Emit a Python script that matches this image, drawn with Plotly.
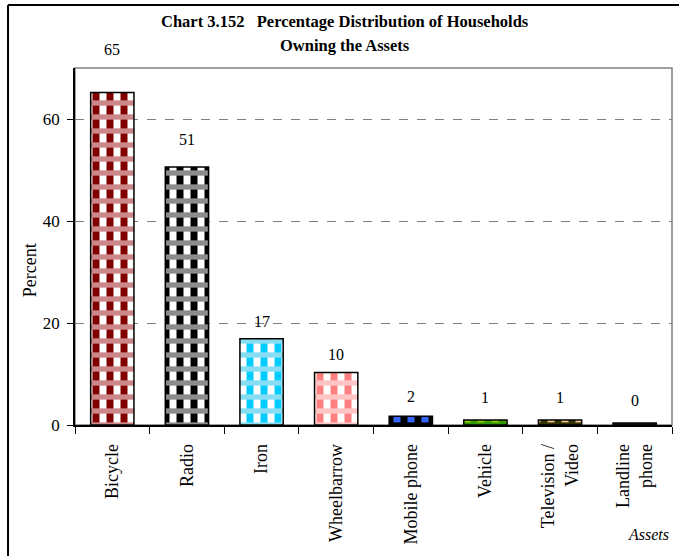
import plotly.graph_objects as go

categories = ["Bicycle", "Radio", "Iron", "Wheelbarrow", "Mobile phone", "Vehicle",
              "Television /<br>Video", "Landline<br>phone"]
values = [65.2, 50.6, 16.9, 10.3, 1.7, 1.0, 1.0, 0.4]
value_labels = ["65", "51", "17", "10", "2", "1", "1", "0"]
y_ticks = [0, 20, 40, 60]

# styles
base_colors = ["#FFFFFF", "#FFFFFF", "#FFFFFF", "#FFFFFF", "#3366FF", "#99CC00", "#FFCC99", "#333300"]
stripe_colors = ["#800000", "#000000", "#00CCFF", "#FF8080", "#000000", "#339900", "#333300", "#333300"]
band_colors = ["#CC8888", "#8C8C8C", "#88DDF2", "#FFC4C4", "#000000", "#339900", "#333300", "#333300"]
label_shift = [43, 27, 17, 18, 20, 22, 22, 22]

FONT = "Liberation Serif"
BW = 0.58

fig = go.Figure()
# base fill
fig.add_trace(go.Bar(
    x=categories, y=values, width=BW,
    marker=dict(color=base_colors, line=dict(width=0)),
    showlegend=False, hoverinfo="skip",
))
# vertical stripes
fig.add_trace(go.Bar(
    x=categories, y=values, width=BW,
    marker=dict(color=stripe_colors, line=dict(width=0),
                pattern=dict(shape="|", bgcolor="rgba(0,0,0,0)", size=14, solidity=0.5,
                             fillmode="replace")),
    showlegend=False, hoverinfo="skip",
))
# horizontal checker bands + outline
fig.add_trace(go.Bar(
    x=categories, y=values, width=BW,
    marker=dict(color=band_colors, line=dict(color="#000000", width=1.5),
                pattern=dict(shape="-", bgcolor="rgba(0,0,0,0)", size=14, solidity=0.38,
                             fillmode="replace")),
    showlegend=False, hoverinfo="skip",
))

for c, v, t, s in zip(categories, values, value_labels, label_shift):
    fig.add_annotation(x=c, y=v, text=t, showarrow=False, yanchor="middle",
                       yshift=s, font=dict(family=FONT, size=16, color="#000"))

# outer frame (top and left edges visible) and plot border
fig.add_shape(type="line", xref="paper", yref="paper", x0=-0.1122, x1=1.2,
              y0=1.1765, y1=1.1765, line=dict(color="#000000", width=2), layer="below")
fig.add_shape(type="line", xref="paper", yref="paper", x0=-0.1122, x1=-0.1122,
              y0=-0.45, y1=1.1765, line=dict(color="#000000", width=2), layer="below")
fig.add_shape(type="rect", xref="paper", yref="paper", x0=0, x1=1, y0=0, y1=1,
              line=dict(color="#808080", width=1.5), layer="below")

fig.add_annotation(xref="paper", yref="paper", x=0.452, y=1.129, xanchor="center", yanchor="middle",
                   text="<b>Chart 3.152   Percentage Distribution of Households</b>",
                   showarrow=False, font=dict(family=FONT, size=16.5, color="#000"))
fig.add_annotation(xref="paper", yref="paper", x=0.452, y=1.062, xanchor="center", yanchor="middle",
                   text="<b>Owning the Assets</b>",
                   showarrow=False, font=dict(family=FONT, size=16.5, color="#000"))
fig.add_annotation(xref="paper", yref="paper", x=-0.075, y=0.434, xanchor="center", yanchor="middle",
                   text="Percent", textangle=-90,
                   showarrow=False, font=dict(family=FONT, size=18, color="#000"))
fig.add_annotation(xref="paper", yref="paper", x=0.96, y=-0.308, xanchor="center", yanchor="middle",
                   text="<i>Assets</i>",
                   showarrow=False, font=dict(family=FONT, size=16, color="#000"))

fig.update_layout(
    width=679, height=556,
    margin=dict(l=75, r=7, t=68, b=131, autoexpand=False),
    paper_bgcolor="white", plot_bgcolor="white",
    barmode="overlay",
    font=dict(family=FONT, size=16, color="#000"),
    xaxis=dict(type="category", tickangle=-90, tickson="boundaries", ticks="outside",
               ticklen=7, tickcolor="#000", showline=True, linecolor="#000", linewidth=1.5,
               ticklabelstandoff=10,
               showgrid=False, automargin=False, tickfont=dict(family=FONT, size=18)),
    yaxis=dict(range=[0, 70], tickvals=y_ticks, ticks="outside", ticklen=6, tickcolor="#000",
               showline=True, linecolor="#000", linewidth=1.5, automargin=False,
               ticklabelstandoff=4,
               showgrid=True, gridcolor="#808080", griddash="dash", gridwidth=1,
               zeroline=False, tickfont=dict(family=FONT, size=17)),
)

fig.write_html("out.html", config={"displayModeBar": False},
               post_script="document.body.style.margin='0';document.body.style.overflow='hidden';")
